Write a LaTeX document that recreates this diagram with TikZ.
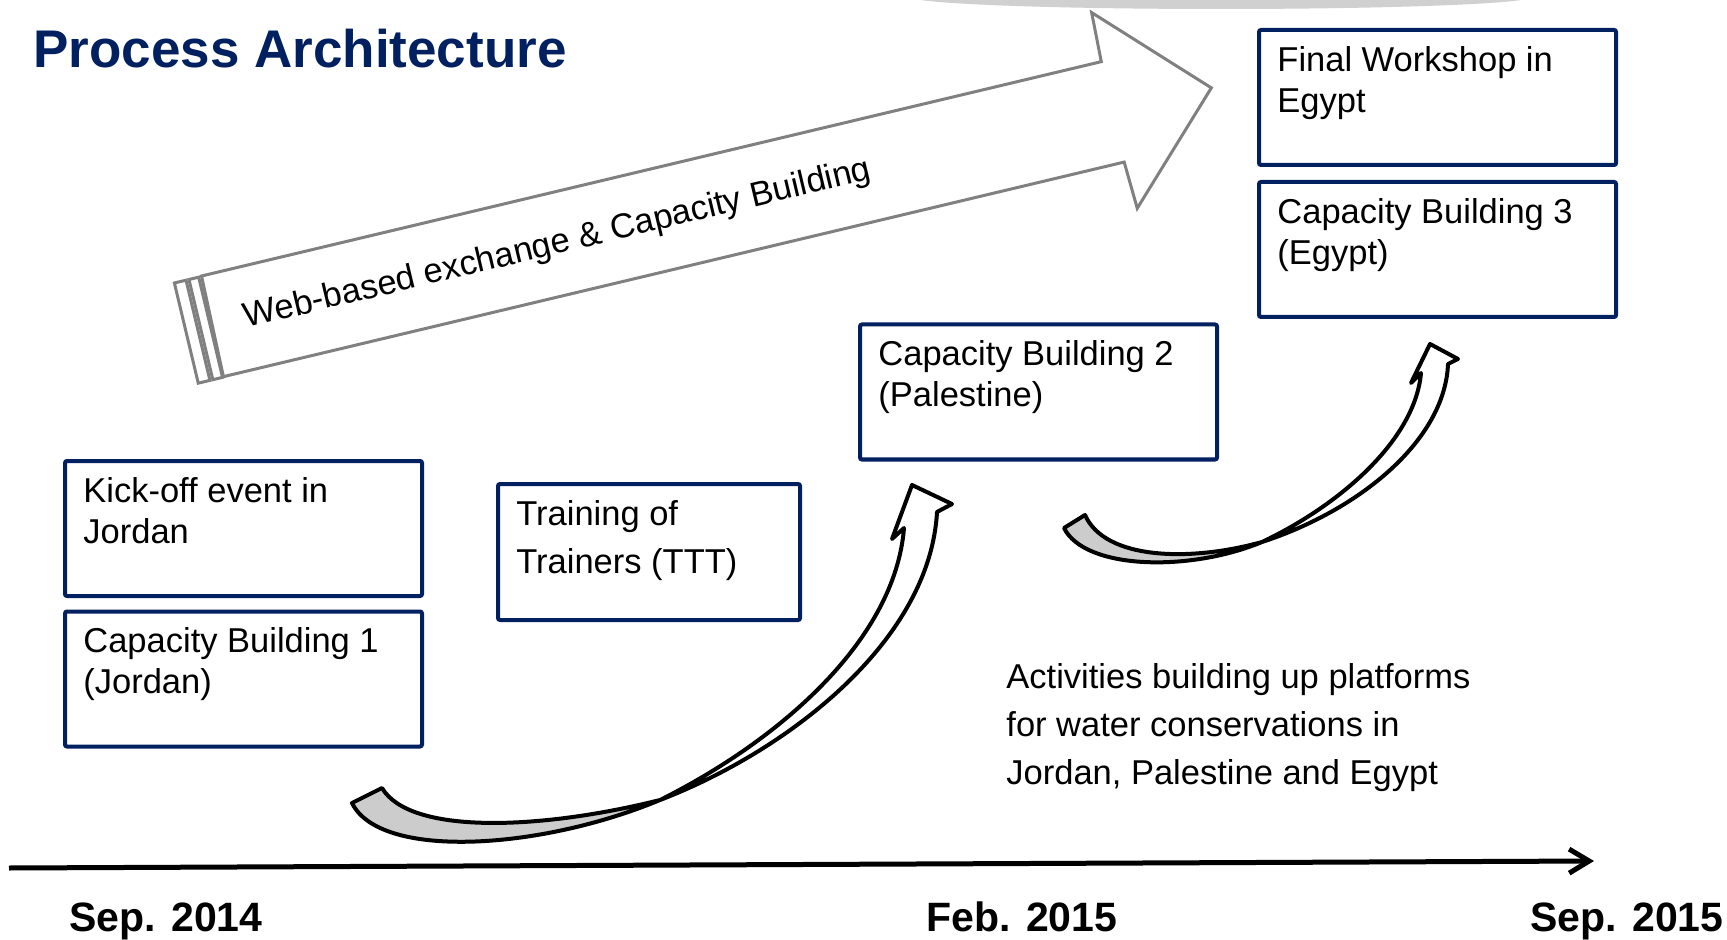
\documentclass[tikz,border=0pt]{standalone}
\usepackage{fontspec}
\setmainfont{Liberation Sans}
\usetikzlibrary{arrows.meta,positioning}

\definecolor{navy}{HTML}{002060}
\definecolor{bannergray}{HTML}{808080}
\definecolor{ribbongray}{HTML}{CCCCCC}
\definecolor{topgray}{HTML}{D0D0D0}

\begin{document}
\begin{tikzpicture}[
    x=0.5pt, y=-0.5pt,
    box/.style={rectangle, draw=navy, line width=2pt, rounded corners=1pt, minimum width=178.5pt, minimum height=67.5pt, inner sep=0pt},
    boxtext/.style={anchor=north west, align=left, inner xsep=10pt, inner ysep=9pt, font=\fontsize{17.25}{20.5}\selectfont},
    ribbon/.style={draw=black, line width=2pt, line join=round},
    banner/.style={draw=bannergray, line width=1.5pt, fill=white},
    datelabel/.style={anchor=base, font=\fontsize{20.5}{24}\selectfont\bfseries},
    arrow/.style={-{Straight Barb[length=10pt, width=12pt]}, line width=2.5pt}
]
\useasboundingbox (0,0) rectangle (1727,940);

% Grey arc at the top edge
\fill[topgray] (1221,-3) ellipse [x radius=155pt, y radius=6pt];

% Title
\node[anchor=base west, inner sep=0pt, text=navy, font=\fontsize{26.5}{32}\selectfont\bfseries] (title) at (33,68) {Process Architecture};

% Web-based exchange banner
\begin{scope}[shift={(201.5,276)}, rotate=13.4]
  \draw[banner] (0,0) -- (925,0) -- (927,-50) -- (1026,51) -- (926,151) -- (924,103) -- (-2,103) -- cycle;
  \draw[banner] (-3,0.5) rectangle (-13,103.5);
  \draw[banner] (-16,0.5) rectangle (-28,103.5);
  \node[rotate=13.4, font=\fontsize{17.25}{20.5}\selectfont] (webtext) at (353.5,52) {Web-based exchange \& Capacity Building};
\end{scope}

% Activity boxes
\node[box] (kickoff) at (243.5,528.5) {};
\node[boxtext] (kickofftext) at (kickoff.north west) {Kick-off event in\\Jordan};
\node[box] (cbjordan) at (243.5,679) {};
\node[boxtext] (cbjordantext) at (cbjordan.north west) {Capacity Building 1\\(Jordan)};
\node[box, minimum width=151pt, minimum height=68pt] (ttt) at (649,552) {};
\node[boxtext, font=\fontsize{17.25}{24.25}\selectfont] (ttttext) at (ttt.north west) {Training of\\Trainers (TTT)};
\node[box] (cbpalestine) at (1038.5,392) {};
\node[boxtext] (cbpalestinetext) at (cbpalestine.north west) {Capacity Building 2\\(Palestine)};
\node[box] (final) at (1437.5,97.5) {};
\node[boxtext] (finaltext) at (final.north west) {Final Workshop in\\Egypt};
\node[box] (cbegypt) at (1437.5,249.5) {};
\node[boxtext] (cbegypttext) at (cbegypt.north west) {Capacity Building 3\\(Egypt)};

% Curved arrows
\filldraw[ribbon, fill=ribbongray] (352,803) .. controls (380,860) and (540,850) .. (660,800) .. controls (540,830) and (410,835) .. (382,788) -- cycle;
\filldraw[ribbon, fill=white] (660,800) .. controls (780,740) and (895,640) .. (904,528) -- (892,539) -- (912,485) -- (952,504) -- (937,512) .. controls (930,640) and (790,750) .. (660,800) -- cycle;

\filldraw[ribbon, fill=ribbongray] (1064,528) .. controls (1085,570) and (1190,572) .. (1262,542) .. controls (1190,562) and (1105,560) .. (1085,515) -- cycle;
\filldraw[ribbon, fill=white] (1262,542) .. controls (1340,505) and (1415,440) .. (1421,373) -- (1411,383) -- (1430,344) -- (1458,359) -- (1448,364) .. controls (1445,440) and (1360,510) .. (1262,542) -- cycle;

% Note
\node[anchor=north west, align=left, inner sep=0pt, font=\fontsize{17.25}{24}\selectfont] (activities) at (1006,663) {Activities building up platforms\\for water conservations in\\Jordan, Palestine and Egypt};

% Time axis
\coordinate (axisstart) at (9,868);
\coordinate (axisend) at (1594,861);
\draw[arrow] (axisstart) -- (axisend);

\node[datelabel] (sepfourteen) at (166,931) {Sep. 2014};
\node[datelabel] (febfifteen) at (1022,931) {Feb. 2015};
\node[datelabel] (sepfifteen) at (1627,931) {Sep. 2015};

\end{tikzpicture}
\end{document}
